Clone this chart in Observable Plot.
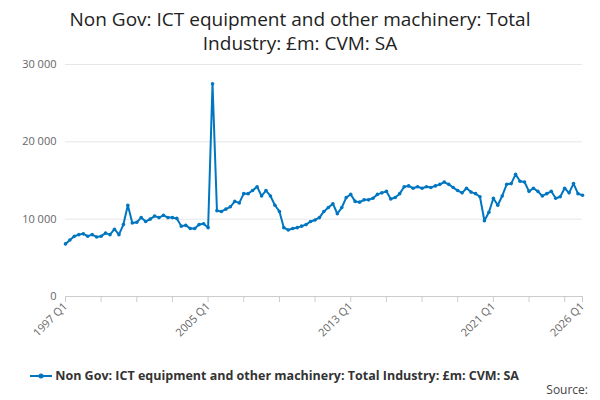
<!DOCTYPE html><html><head><meta charset="utf-8">
<script src="https://cdn.jsdelivr.net/npm/d3@7"></script>
<script src="https://cdn.jsdelivr.net/npm/@observablehq/plot@0.6"></script>
<style>body{margin:0;font-family:"Open Sans",sans-serif;width:600px}
h1{font-size:19px;font-weight:normal;text-align:center;margin:7px 60px 0;line-height:24px;color:#222}
#leg{font-size:12.5px;font-weight:bold;color:#333;margin:8px 0 0 30px;display:flex;align-items:center;line-height:16px}
#src{font-size:12px;color:#444;text-align:right;margin:-2px 12px 0 0;line-height:15px}</style></head><body>
<h1>Non Gov: ICT equipment and other machinery: Total Industry: £m: CVM: SA</h1>
<div id="chart"></div>
<div id="leg"><svg width="22" height="10"><line x1="0" x2="22" y1="5" y2="5" stroke="#0076c0" stroke-width="2"/><circle cx="11" cy="5" r="2.5" fill="#0076c0"/></svg>&nbsp;Non Gov: ICT equipment and other machinery: Total Industry: £m: CVM: SA</div>
<div id="src">Source:</div>
<script>
const startYear = 1997;
const values = [6800,7300,7800,8000,8100,7800,8000,7700,7800,8200,8000,8700,8000,9300,11800,9500,
9600,10200,9700,10000,10400,10200,10500,10200,10200,10100,9100,9200,8800,8800,9300,9400,
8900,27500,11100,11000,11300,11600,12300,12100,13300,13300,13700,14200,13000,13700,13000,11800,
11000,8900,8600,8800,8900,9100,9300,9700,9900,10200,11000,11500,12000,10700,11500,12800,
13200,12300,12200,12500,12500,12700,13200,13400,13600,12600,12800,13300,14200,14300,14000,14200,
14000,14200,14100,14300,14500,14800,14500,14100,13700,13400,14000,13500,13300,12900,9800,10900,
12700,11800,13000,14500,14600,15800,14900,14800,13600,14000,13600,13000,13300,13600,12700,12900,
14000,13400,14600,13300,13100];
const tickLabels = ["1997 Q1","2005 Q1","2013 Q1","2021 Q1","2026 Q1"];
const q = i => new Date(startYear + Math.floor(i/4), (i%4)*3, 1);
const data = values.map((v,i)=>({d:q(i),v}));
const parseQ = s => new Date(+s.slice(0,4), (+s.slice(6)-1)*3, 1);
const tickDates = tickLabels.map(parseQ);
const minor = d3.range(0, values.length, 8).map(q).concat([q(values.length-1)]);
const fmt = new Map(tickDates.map((d,i)=>[+d,tickLabels[i]]));
const chart = Plot.plot({
  width:600,height:305,marginLeft:65,marginRight:18,marginTop:9,marginBottom:64,
  style:{fontFamily:"Open Sans",fontSize:"11px",color:"#666"},
  x:{type:"time",domain:[q(0),q(values.length-1)],label:null},
  y:{domain:[0,30000],label:null},
  marks:[
    Plot.gridY([10000,20000,30000],{stroke:"#e6e6e6",strokeOpacity:1}),
    Plot.axisY([0,10000,20000,30000],{tickSize:0,tickFormat:d=>d3.format(",")(d).replace(/,/g," ")}),
    Plot.ruleY([0],{stroke:"#ccc"}),
    Plot.axisX(minor,{tickSize:6,text:null,stroke:"#ccc"}),
    Plot.axisX(tickDates,{tickSize:0,tickRotate:-45,tickPadding:8,tickFormat:d=>fmt.get(+d)}),
    Plot.line(data,{x:"d",y:"v",stroke:"#0076c0",strokeWidth:2}),
    Plot.dot(data,{x:"d",y:"v",fill:"#0076c0",r:1.8})
  ]
});
document.getElementById("chart").append(chart);
</script></body></html>
